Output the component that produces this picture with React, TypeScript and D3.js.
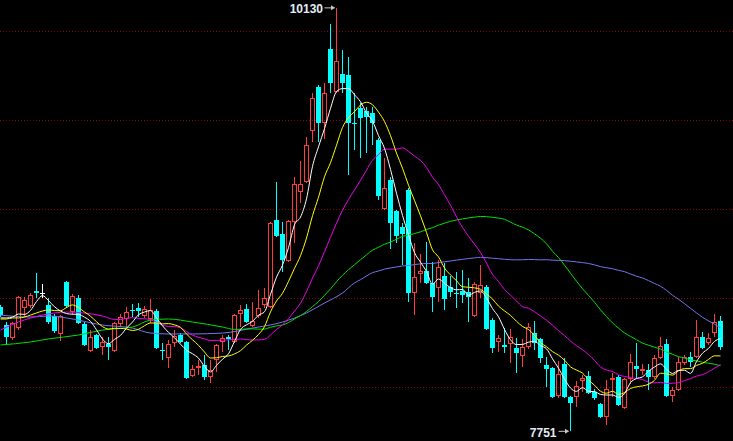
import React from 'react'
import * as d3 from 'd3'

const W = 733
const H = 441

// daily bars, oldest first
const opens = [
  8449, 8348, 8275, 8331, 8444, 8455, 8539, 8528, 8461, 8399,
  8298, 8590, 8421, 8500, 8354, 8202, 8292, 8225, 8242, 8202,
  8354, 8382, 8433, 8444, 8399, 8382, 8427, 8208, 8163, 8247,
  8292, 8253, 8062, 8107, 8124, 8056, 8152, 8253, 8281, 8253,
  8410, 8438, 8343, 8399, 8461, 8449, 8938, 8860, 8708, 8927,
  9096, 9152, 9438, 9685, 9483, 9899, 9657, 9758, 9753, 9483,
  9567, 9551, 9539, 9388, 9000, 9163, 8989, 8899, 9107, 8528,
  8635, 8652, 8584, 8556, 8624, 8562, 8528, 8539, 8534, 8399,
  8528, 8562, 8376, 8253, 8236, 8242, 8219, 8174, 8225, 8303,
  8270, 8124, 8107, 7949, 8129, 7944, 7944, 8034, 8062, 7972,
  7904, 7831, 8039, 8056, 7882, 8045, 8118, 8090, 8096, 8056,
  8163, 8242, 7949, 7983, 8135, 8169, 8169, 8281, 8247, 8303,
  8371,
]
const highs = [
  8461, 8365, 8365, 8511, 8506, 8528, 8640, 8579, 8500, 8410,
  8404, 8596, 8522, 8517, 8365, 8320, 8298, 8281, 8281, 8365,
  8410, 8449, 8466, 8472, 8455, 8494, 8438, 8247, 8264, 8320,
  8303, 8258, 8124, 8152, 8180, 8152, 8242, 8292, 8292, 8410,
  8461, 8466, 8478, 8545, 8556, 8927, 9152, 8927, 8938, 9180,
  9270, 9405, 9652, 9697, 9708, 10039, 10130, 9893, 9854, 9652,
  9596, 9573, 9573, 9399, 9287, 9180, 8994, 8921, 9118, 8809,
  8747, 8815, 8702, 8713, 8697, 8624, 8646, 8657, 8612, 8590,
  8685, 8573, 8388, 8292, 8331, 8326, 8275, 8270, 8360, 8371,
  8275, 8169, 8112, 8146, 8163, 7949, 8034, 8067, 8090, 7989,
  7910, 8039, 8079, 8067, 8051, 8185, 8247, 8129, 8129, 8180,
  8281, 8270, 8000, 8169, 8180, 8197, 8376, 8309, 8303, 8410,
  8399,
]
const lows = [
  8393, 8236, 8264, 8320, 8393, 8444, 8500, 8500, 8354, 8303,
  8258, 8444, 8404, 8354, 8230, 8197, 8213, 8180, 8152, 8197,
  8337, 8337, 8393, 8393, 8388, 8360, 8213, 8152, 8107, 8225,
  8247, 8045, 8056, 8067, 8039, 8022, 8084, 8197, 8208, 8247,
  8337, 8360, 8337, 8388, 8444, 8444, 8843, 8646, 8702, 8809,
  9034, 9146, 9376, 9376, 9393, 9652, 9652, 9652, 9191, 9331,
  9287, 9315, 9360, 9051, 8994, 8775, 8809, 8685, 8478, 8404,
  8584, 8579, 8421, 8478, 8433, 8506, 8444, 8472, 8365, 8393,
  8500, 8320, 8191, 8197, 8191, 8135, 8079, 8112, 8213, 8208,
  8135, 8000, 7938, 7938, 7938, 7751, 7888, 7972, 7961, 7927,
  7826, 7787, 7944, 7893, 7876, 8017, 8051, 8067, 7983, 8045,
  8157, 7944, 7916, 7978, 8124, 8112, 8163, 8213, 8236, 8281,
  8208,
]
const closes = [
  8404, 8281, 8360, 8506, 8489, 8517, 8528, 8528, 8365, 8315,
  8399, 8455, 8511, 8360, 8236, 8281, 8219, 8253, 8225, 8360,
  8393, 8421, 8427, 8427, 8438, 8433, 8219, 8202, 8242, 8287,
  8253, 8051, 8101, 8118, 8056, 8096, 8236, 8275, 8270, 8404,
  8433, 8365, 8371, 8444, 8500, 8921, 8848, 8713, 8933, 9140,
  9140, 9360, 9624, 9483, 9652, 9708, 9831, 9708, 9483, 9478,
  9511, 9517, 9483, 9073, 9118, 8921, 8848, 8860, 8528, 8618,
  8652, 8584, 8506, 8674, 8494, 8534, 8522, 8517, 8506, 8579,
  8573, 8326, 8219, 8275, 8225, 8281, 8191, 8225, 8337, 8247,
  8163, 8101, 7944, 8073, 7944, 7910, 8006, 8051, 7966, 7938,
  7831, 7989, 8051, 7899, 8045, 8140, 8101, 8101, 8056, 8163,
  8230, 7949, 7983, 8140, 8169, 8140, 8281, 8219, 8275, 8365,
  8225,
]

// averages before a full window is on screen
const ma5HeadBars = [0, 1, 2, 3]
const ma5HeadVals = [8388, 8388, 8393, 8410]
const ma10HeadBars = [0, 1, 2, 3, 4, 5, 6, 7, 8]
const ma10HeadVals = [8382, 8382, 8388, 8388, 8393, 8404, 8416, 8427, 8433]
const ma20HeadBars = [0, 3, 7, 11, 17]
const ma20HeadVals = [8320, 8365, 8404, 8421, 8399]
const ma40HeadBars = [0, 5, 8, 13, 17, 22, 25, 28, 32, 37]
const ma40HeadVals = [8236, 8253, 8270, 8292, 8320, 8337, 8376, 8382, 8365, 8337]
const ma60HeadBars = [0, 5, 8, 11, 17, 22, 25, 28, 32, 37, 42, 47, 51, 54, 57]
const ma60HeadVals = [8404, 8393, 8399, 8388, 8348, 8331, 8303, 8298, 8298, 8303, 8331, 8365, 8416, 8472, 8528]

const gridPrices = [8000, 8500, 9000, 9500, 10000]

const RED = '#ff3c3c'
const CYAN = '#00ffff'

type Pt = { i: number; v: number }

function movingAvg(n: number, headBars: number[], headVals: number[]): Pt[] {
  const pts: Pt[] = headBars.map((b, k) => ({ i: b, v: headVals[k] }))
  for (let i = n - 1; i < closes.length; i++) {
    pts.push({ i, v: d3.mean(closes.slice(i - n + 1, i + 1)) as number })
  }
  return pts
}

const averages = [
  { key: 'ma60', color: '#7474f0', pts: movingAvg(60, ma60HeadBars, ma60HeadVals) },
  { key: 'ma40', color: '#00e000', pts: movingAvg(40, ma40HeadBars, ma40HeadVals) },
  { key: 'ma20', color: '#ee00ee', pts: movingAvg(20, ma20HeadBars, ma20HeadVals) },
  { key: 'ma10', color: '#ffff00', pts: movingAvg(10, ma10HeadBars, ma10HeadVals) },
  { key: 'ma5', color: '#ffffff', pts: movingAvg(5, ma5HeadBars, ma5HeadVals) },
]

export default function App() {
  const x = d3.scaleLinear().domain([0, closes.length - 1]).range([0.5, 720.5])
  const y = d3.scaleLinear().domain([8000, 10000]).range([387, 31])

  const line = d3
    .line<Pt>()
    .x((d) => x(d.i))
    .y((d) => y(d.v))
    .curve(d3.curveMonotoneX)

  const hi = d3.maxIndex(highs)
  const lo = d3.minIndex(lows)
  const hx = x(hi)
  const hy = y(highs[hi])
  const lx = x(lo)
  const ly = y(lows[lo])

  return (
    <svg
      width={W}
      height={H}
      style={{ position: 'fixed', left: 0, top: 0, display: 'block', background: '#000' }}
    >
      <rect width={W} height={H} fill="#000" />
      {gridPrices.map((p) => (
        <line
          key={p}
          x1={0}
          x2={W}
          y1={Math.round(y(p)) + 0.5}
          y2={Math.round(y(p)) + 0.5}
          stroke="#840808"
          strokeDasharray="1 2"
        />
      ))}

      {closes.map((c, i) => {
        const o = opens[i]
        const cx = x(i)
        const yh = Math.round(y(highs[i]))
        const yl = Math.round(y(lows[i]))
        const yo = Math.round(y(o))
        const yc = Math.round(y(c))
        if (c > o) {
          return (
            <g key={i} stroke={RED}>
              <line x1={cx} x2={cx} y1={yh} y2={yc} />
              <line x1={cx} x2={cx} y1={yo} y2={yl} />
              <rect x={cx - 2} y={yc + 0.5} width={4} height={Math.max(yo - yc - 1, 0)} fill="none" />
            </g>
          )
        }
        if (c === o) {
          return (
            <g key={i} stroke="#ffffff">
              <line x1={cx} x2={cx} y1={yh} y2={yl} />
              <line x1={cx - 2.5} x2={cx + 2.5} y1={yo + 0.5} y2={yo + 0.5} />
            </g>
          )
        }
        return (
          <g key={i}>
            <line x1={cx} x2={cx} y1={yh} y2={yl} stroke={CYAN} />
            <rect x={cx - 2.5} y={yo} width={5} height={Math.max(yc - yo, 1)} fill={CYAN} />
          </g>
        )
      })}

      {averages.map((a) => (
        <path key={a.key} d={line(a.pts) || ''} fill="none" stroke={a.color} strokeWidth={1} />
      ))}

      <g fontFamily="Arial, 'Liberation Sans', sans-serif" fontWeight="bold" fontSize={12} fill="#e4ecf6">
        <text x={hx - 13.5} y={hy + 5} textAnchor="end">
          {highs[hi]}
        </text>
        <text x={lx - 14} y={ly + 5.5} textAnchor="end">
          {lows[lo]}
        </text>
      </g>
      <g stroke="#c8c8c8" fill="#c8c8c8">
        <line x1={hx - 12} x2={hx - 2} y1={hy} y2={hy} />
        <path d={`M${hx - 1.5},${hy} l-4,-2.5 v5 z`} stroke="none" />
        <line x1={lx - 12} x2={lx - 2} y1={ly} y2={ly} />
        <path d={`M${lx - 1.5},${ly} l-4,-2.5 v5 z`} stroke="none" />
      </g>
    </svg>
  )
}
